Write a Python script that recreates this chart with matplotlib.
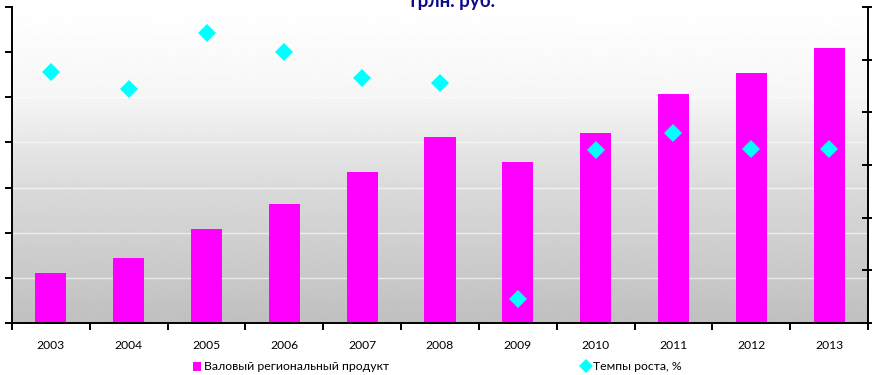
import matplotlib.pyplot as plt
import numpy as np
from matplotlib.lines import Line2D
from matplotlib.patches import Patch

plt.rcParams['font.family'] = ['Lato', 'DejaVu Sans']

# data
years = ['2003', '2004', '2005', '2006', '2007', '2008',
         '2009', '2010', '2011', '2012', '2013']
grp = [11.1, 14.4, 20.8, 26.4, 33.5, 41.2, 35.7, 42.1, 50.7, 55.4, 60.9]
growth = [127.7, 124.4, 135.0, 131.4, 126.6, 125.5, 84.6, 112.8, 116.1, 113.0, 113.0]

bar_label = 'Валовый региональный продукт'
growth_label = 'Темпы роста, %'
title = 'трлн. руб.'

fig = plt.figure(figsize=(8.72, 3.75), dpi=100)
ax = fig.add_axes([12 / 872, 52 / 375, 856 / 872, 316 / 375])

x = np.arange(len(years))
x_lo, x_hi = -0.5, len(years) - 0.5

# grey gradient behind the plot area (row 0 is the top)
shade = np.interp(np.linspace(0, 1, 256),
                  [0.0, 0.28, 0.43, 0.6, 1.0],
                  [255, 246, 231, 216, 192]) / 255.0
grad = np.repeat(shade[:, None], 2, axis=1)
ax.imshow(grad, cmap='gray', vmin=0, vmax=1, aspect='auto', origin='upper',
          extent=[x_lo, x_hi, 0, 70], zorder=0)
ax.set_xlim(x_lo, x_hi)
ax.set_ylim(0, 70)

for v in range(10, 70, 10):
    ax.axhline(v, color='white', lw=1.0, alpha=0.6, zorder=1)

ax.bar(x, grp, width=0.4, color='#ff00ff', zorder=2)

ax.set_xticks(x)
ax.set_xticklabels(years, fontsize=8.7)
ax.set_xticks(np.arange(-0.5, len(years)), minor=True)
ax.tick_params(axis='x', which='major', length=0, pad=12)
ax.tick_params(axis='x', which='minor', length=5, width=1.4, direction='out')
ax.set_yticks(np.arange(0, 71, 10))
ax.tick_params(axis='y', length=5, width=1.4, direction='out', labelleft=False)
ax.spines['top'].set_visible(False)
ax.spines['right'].set_visible(False)
for s in ('left', 'bottom'):
    ax.spines[s].set_linewidth(1.4)

ax2 = ax.twinx()
ax2.set_ylim(80, 140)
ax2.plot(x, growth, linestyle='none', marker='D', markersize=9,
         color='#00ffff', markeredgewidth=0)
ax2.set_yticks(np.arange(80, 141, 10))
ax2.tick_params(axis='y', length=9, width=1.4, direction='inout', labelright=False)
ax2.spines['right'].set_linewidth(1.4)
ax2.spines['top'].set_visible(False)
ax2.spines['left'].set_visible(False)
ax2.spines['bottom'].set_visible(False)

fig.text(451 / 872, 1 - 7 / 375, title, ha='center', va='baseline',
         fontsize=13.5, fontweight='bold', color='#0b0b8a')

handles = [Patch(facecolor='#ff00ff', edgecolor='none'),
           Line2D([], [], linestyle='none', marker='D', markersize=7,
                  color='#00ffff', markeredgewidth=0)]
fig.legend(handles, [bar_label, growth_label], loc='center',
           bbox_to_anchor=(437 / 872, 1 - 367 / 375), ncol=2, frameon=False,
           fontsize=8.8, handlelength=0.7, handleheight=0.7, handletextpad=0.2,
           columnspacing=15.8)

fig.savefig('out.png', dpi=100)
